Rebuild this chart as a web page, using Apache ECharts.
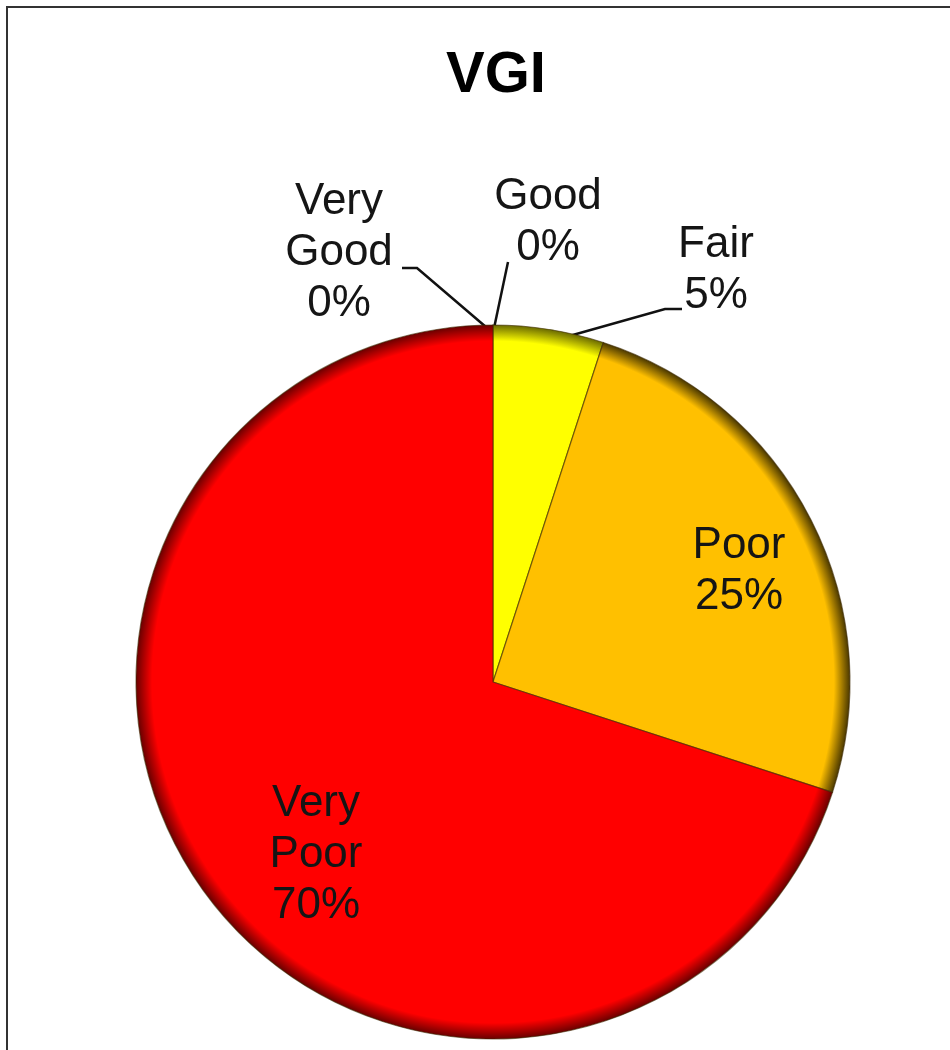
<!DOCTYPE html>
<html>
<head>
<meta charset="utf-8">
<title>VGI</title>
<script src="https://cdn.jsdelivr.net/npm/echarts@6/dist/echarts.min.js"></script>
<style>
  html, body { margin: 0; padding: 0; background: #ffffff; }
  #chart { width: 950px; height: 1050px; }
</style>
</head>
<body>
<div id="chart"></div>
<script>
// Condition categories, in clockwise order from 12 o'clock
const categories = ['Very Good', 'Good', 'Fair', 'Poor', 'Very Poor'];
// Share of each condition class (%)
const shares = [0, 0, 5, 25, 70];
// Fill colour of each class
const sliceColors = ['#00B050', '#92D050', '#FFFF00', '#FFC000', '#FF0000'];
const rimColors = ['#005828', '#4a6a20', '#6a6a00', '#4a3800', '#6a0000'];

// Pie geometry (pixels)
const CX = 493, CY = 682, R = 357;
const FONT = "'Liberation Sans', Arial, sans-serif";

// Label placement relative to the pie centre; outer labels get leader lines
const labelSpots = {
  'Very Good': { dx: -154, dy: -429, line: [[0, -349], [-76, -414], [-91, -414]] },
  'Good':      { dx: 55,  dy: -460, line: [[0, -349], [15, -420]] },
  'Fair':      { dx: 223, dy: -412, line: [[62, -342], [172, -373], [189, -373]] },
  'Poor':      { dx: 246, dy: -111 },
  'Very Poor': { dx: -177, dy: 173 }
};

function bevelFill(i) {
  return {
    type: 'radial', x: CX, y: CY, r: R, global: true,
    colorStops: [
      { offset: 0, color: sliceColors[i] },
      { offset: 0.955, color: sliceColors[i] },
      { offset: 1, color: rimColors[i] }
    ]
  };
}

const pieData = categories.map((name, i) => {
  const inner = !labelSpots[name].line;
  return {
    name: name,
    value: shares[i],
    itemStyle: { color: bevelFill(i) },
    label: { position: inner ? 'inside' : 'outside' },
    labelLine: { show: !inner }
  };
});

const chart = echarts.init(document.getElementById('chart'), null, { renderer: 'canvas' });

chart.setOption({
  backgroundColor: '#ffffff',
  animation: false,
  title: {
    text: 'VGI',
    left: 491,
    textAlign: 'center',
    top: 42,
    textStyle: { fontFamily: FONT, fontSize: 58, fontWeight: 'bold', color: '#000000' }
  },
  graphic: [{
    type: 'rect',
    shape: { x: 7, y: 7, width: 1000, height: 1100 },
    style: { fill: 'none', stroke: '#333333', lineWidth: 2 },
    silent: true
  }],
  series: [{
    type: 'pie',
    center: [CX, CY],
    radius: R,
    startAngle: 90,
    clockwise: true,
    avoidLabelOverlap: false,
    stillShowZeroSum: true,
    minShowLabelAngle: 0,
    data: pieData,
    itemStyle: { borderColor: 'rgba(60,40,0,0.6)', borderWidth: 1.2 },
    label: {
      show: true,
      formatter: p => p.name.replace(' ', '\n') + '\n' + p.value + '%',
      fontFamily: FONT,
      fontSize: 44,
      lineHeight: 51,
      color: '#151515',
      align: 'center'
    },
    labelLine: {
      show: true,
      lineStyle: { color: '#111111', width: 2.5 }
    },
    labelLayout: function (params) {
      const spot = labelSpots[categories[params.dataIndex]];
      const out = {
        x: CX + spot.dx,
        y: CY + spot.dy,
        align: 'center',
        verticalAlign: 'middle',
        hideOverlap: false
      };
      if (spot.line) {
        out.labelLinePoints = spot.line.map(p => [CX + p[0], CY + p[1]]);
      }
      return out;
    },
    emphasis: { disabled: true }
  }]
});
</script>
</body>
</html>
